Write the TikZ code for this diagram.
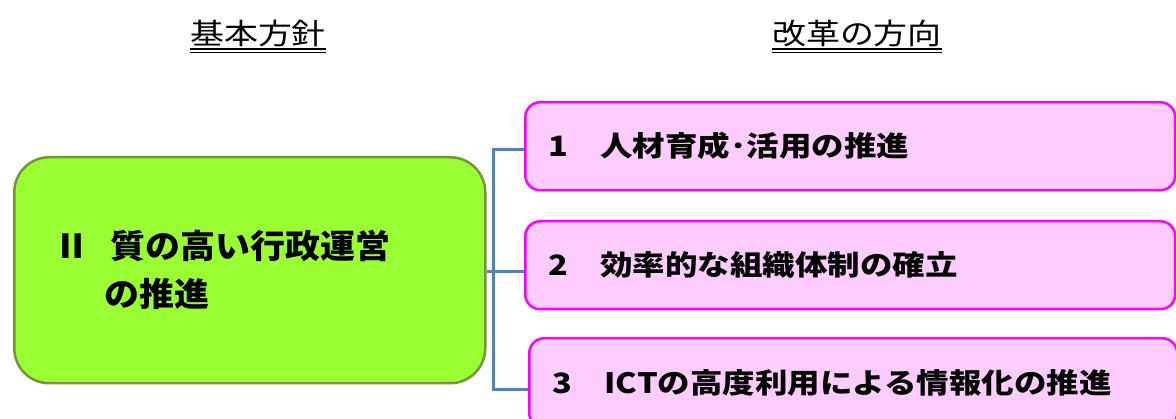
\documentclass[tikz,border=0pt]{standalone}
\usepackage{fontspec}
\usepackage{graphicx}
\setmainfont{Noto Sans CJK JP}
\definecolor{policyfill}{HTML}{99FF33}
\definecolor{policyedge}{HTML}{77933C}
\definecolor{itemfill}{HTML}{FFCCFF}
\definecolor{itemedge}{HTML}{FF00FF}
\definecolor{linkblue}{HTML}{4F81BD}
\newcommand{\widetxt}[2]{\scalebox{#1}[1]{#2}}
\tikzset{
  headtxt/.style={inner sep=0pt, font=\fontsize{29}{34}\selectfont},
  policybox/.style={draw=policyedge, fill=policyfill, line width=2.5pt,
    rounded corners=35pt, minimum width=471pt, minimum height=226pt,
    inner xsep=40pt, text width=391pt, align=left, anchor=north west,
    font=\bfseries\fontsize{33}{48}\selectfont},
  itembox/.style={draw=itemedge, fill=itemfill, line width=2.5pt,
    rounded corners=15pt, minimum height=88pt, inner xsep=23pt,
    align=left, anchor=north west,
    font=\bfseries\fontsize{28}{34}\selectfont},
  bracket/.style={draw=linkblue, line width=3pt},
  uline/.style={line width=2pt},
}
\begin{document}
\begin{tikzpicture}[x=1pt,y=-1pt]
\useasboundingbox (0,0) rectangle (1176,419);
\clip (0,0) rectangle (1176,419);

% headings
\node[headtxt] (hdBasic) at (258,33) {\widetxt{1.17}{基本方針}};
\node[headtxt] (hdReform) at (857,33) {\widetxt{1.17}{改革の方向}};
\draw[uline] (hdBasic.west |- 0,49) -- (hdBasic.east |- 0,49);
\draw[uline, line width=1.5pt] (hdBasic.west |- 0,52.5) -- (hdBasic.east |- 0,52.5);
\draw[uline] (hdReform.west |- 0,49) -- (hdReform.east |- 0,49);
\draw[uline, line width=1.5pt] (hdReform.west |- 0,52.5) -- (hdReform.east |- 0,52.5);

% basic policy
\node[policybox] (policy) at (13,156)
  {\widetxt{1.06}{\makebox[1.6em][l]{Ⅱ}質の高い行政運営}\\
   \widetxt{1.06}{\makebox[1.45em]{}の推進}};

% directions of reform
\node[itembox, minimum width=650pt, text width=604pt] (item1) at (524,101)
  {\widetxt{1.16}{1　人材育成･活用の推進}};
\node[itembox, minimum width=650pt, text width=604pt] (item2) at (524,220)
  {\widetxt{1.16}{2　効率的な組織体制の確立}};
\node[itembox, minimum width=648pt, minimum height=90pt, text width=602pt] (item3) at (528,337)
  {\widetxt{1.16}{3　ICTの高度利用による情報化の推進}};

% bracket
\coordinate (spineTop) at (493,150);
\coordinate (spineMid) at (493,272);
\coordinate (spineBot) at (493,390);
\draw[bracket] (item1.west |- spineTop) -- (spineTop) -- (spineBot) -- (item3.west |- spineBot);
\draw[bracket] (policy.east |- spineMid) -- (item2.west |- spineMid);
\end{tikzpicture}
\end{document}
